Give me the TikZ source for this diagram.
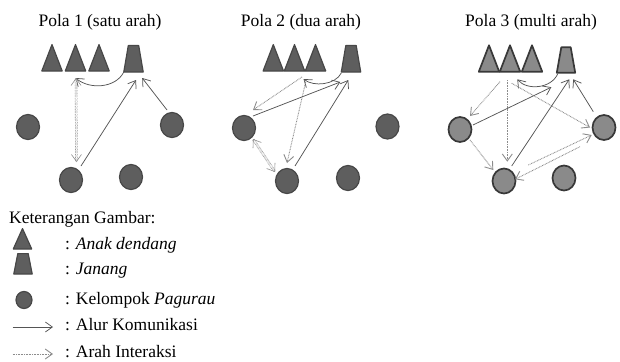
\documentclass[tikz,border=0pt]{standalone}
\usepackage{fontspec}
\setmainfont{Liberation Serif}
\usetikzlibrary{shapes.geometric,arrows.meta,calc}

\definecolor{shapefill}{HTML}{5E5E5E}
\definecolor{shapeline}{HTML}{474747}
\definecolor{lightfill}{HTML}{8A8A8A}
\definecolor{darkline}{HTML}{383838}
\definecolor{solidline}{HTML}{555555}
\definecolor{dotline}{HTML}{8C8C8C}

\tikzset{
  txt/.style={font=\fontsize{17.5}{20}\selectfont, inner sep=0pt},
  body/.style={fill=shapefill, draw=shapeline, line width=1.2pt, line join=round},
  bodylight/.style={fill=lightfill, draw=darkline, line width=1.7pt, line join=round},
  % triangle drawn inside an invisible box: width, height, look
  tri/.style n args={3}{rectangle, minimum width=#1, minimum height=#2, inner sep=0pt, anchor=south,
    append after command={\pgfextra{\path[#3] (\tikzlastnode.south west) -- (\tikzlastnode.north)
      -- (\tikzlastnode.south east) -- cycle;}}},
  % trapezium, narrower on top: width, height, top inset, look
  trap/.style n args={4}{rectangle, minimum width=#1, minimum height=#2, inner sep=0pt, anchor=south,
    append after command={\pgfextra{\path[#4] (\tikzlastnode.south west) -- ($(\tikzlastnode.north west)+(#3,0)$)
      -- ($(\tikzlastnode.north east)+(-#3,0)$) -- (\tikzlastnode.south east) -- cycle;}}},
  person/.style={ellipse, minimum width=23pt, minimum height=25pt, inner sep=0pt},
  sol/.style={draw=solidline, line width=0.75pt, -{Straight Barb[length=7pt, width=10pt]}},
  dot/.style={draw=dotline, line width=0.9pt, dash pattern=on 0.8pt off 0.8pt,
    -{Straight Barb[length=7pt, width=10pt]}},
  dotboth/.style={draw=dotline, line width=0.6pt, double=white, double distance=1.3pt,
    dash pattern=on 0.8pt off 0.8pt,
    {Straight Barb[length=7pt, width=10pt]}-{Straight Barb[length=7pt, width=10pt]}},
}

\begin{document}
\begin{tikzpicture}[x=1pt, y=-1pt]
\useasboundingbox (0,0) rectangle (620,361);

% ---------- titles ----------
\node[txt, anchor=base] (h1) at (100,27) {Pola 1 (satu arah)};
\node[txt, anchor=base] (h2) at (301,27) {Pola 2 (dua arah)};
\node[txt, anchor=base] (h3) at (531,27) {Pola 3 (multi arah)};

% ---------- pattern 1 ----------
\node[tri={20pt}{26pt}{body}] (a11) at (52,71) {};
\node[tri={20pt}{26pt}{body}] (a12) at (75.5,71) {};
\node[tri={20pt}{26pt}{body}] (a13) at (99,71) {};
\node[trap={19pt}{26pt}{4.5pt}{body}] (j1) at (133.5,72) {};
\node[person, body] (p11) at (28,127) {};
\node[person, body] (p12) at (172,125) {};
\node[person, body] (p13) at (71,180) {};
\node[person, body] (p14) at (131,177) {};

\draw[sol] (j1.south west) .. controls ($(j1.south west)+(-8,16)$) and ($(a12.south)+(14.5,19)$) .. ($(a12.south)+(0,7)$);
\draw[dotboth] ($(a12.south)+(0.5,7)$) -- ($(p13.center)+(5.5,-18)$);
\draw[sol] ($(p13.center)+(10,-14)$) -- ($(j1.south)+(2.5,8)$);
\draw[sol] ($(p12.center)+(-5,-15)$) -- ($(j1.south east)+(-1,6)$);

% ---------- pattern 2 ----------
\node[tri={20pt}{26pt}{body}] (a21) at (273.3,71) {};
\node[tri={20pt}{26pt}{body}] (a22) at (294.5,71) {};
\node[tri={20pt}{26pt}{body}] (a23) at (315.5,71) {};
\node[trap={19pt}{26pt}{4.5pt}{body}] (j2) at (351,72) {};
\node[person, body] (p21) at (244,128) {};
\node[person, body] (p22) at (387.5,126.5) {};
\node[person, body] (p23) at (287,181) {};
\node[person, body] (p24) at (348,178) {};

\draw[sol] ($(j2.south west)+(0,1)$) .. controls ($(j2.south west)+(-6,13)$) and ($(a23.south)+(-2,16)$) .. ($(a23.south)+(-12,8)$);
\draw[dot] ($(a22.south)+(7.5,6)$) -- ($(p21.center)+(9,-18)$);
\draw[dot] ($(a22.south)+(11.5,9.5)$) -- ($(p23.center)+(0,-18)$);
\draw[sol] ($(p21.center)+(9,-12)$) -- ($(j2.south west)+(-1,10)$);
\draw[sol] ($(p23.center)+(8,-15)$) -- ($(j2.south)+(-2.7,8)$);
\draw[dotboth] ($(p21.center)+(9,11)$) -- ($(p23.center)+(-12,-9)$);

% ---------- pattern 3 ----------
\node[tri={20pt}{26pt}{bodylight}] (a31) at (489,71.7) {};
\node[tri={20pt}{26pt}{bodylight}] (a32) at (510,71.7) {};
\node[tri={20pt}{26pt}{bodylight}] (a33) at (532,71.7) {};
\node[trap={18pt}{25pt}{4.5pt}{bodylight}] (j3) at (566,72.7) {};
\node[person, bodylight] (p31) at (460,129.5) {};
\node[person, bodylight] (p32) at (604,127.5) {};
\node[person, bodylight] (p33) at (504,181) {};
\node[person, bodylight] (p34) at (564,178) {};

\draw[sol] ($(j3.south west)+(1,1)$) .. controls ($(j3.south west)+(-5.5,16)$) and ($(a32.south)+(17,19)$) .. ($(a32.south)+(7.3,7.6)$);
\draw[dot] ($(a31.south)+(11,10)$) -- ($(p31.center)+(10,-13.5)$);
\draw[dot] ($(a32.south)+(-2.7,8.3)$) -- ($(p33.center)+(3.3,-19.3)$);
\draw[dot] ($(a32.south)+(1.7,11.6)$) -- ($(p32.center)+(-14,0)$);
\draw[sol] ($(p31.center)+(13,-4.5)$) -- ($(j3.south west)+(-5.5,14.5)$);
\draw[sol] ($(p33.center)+(7.7,-15)$) -- ($(j3.south)+(3.3,6.6)$);
\draw[sol] ($(p32.center)+(-10.7,-15.8)$) -- ($(j3.south east)+(-2,6.6)$);
\draw[dot] ($(p31.center)+(10,10.5)$) -- ($(p33.center)+(-10.7,-11)$);
\draw[dot] ($(p33.center)+(24.3,-16)$) -- ($(p32.center)+(-12.3,7.5)$);
\draw[dot] ($(p32.center)+(-24,19.2)$) -- ($(p33.center)+(11,-1.7)$);

% ---------- legend ----------
\node[txt, anchor=base west] (kt) at (9,223) {Keterangan Gambar:};
\node[tri={18pt}{20pt}{body}] (lt) at (22.5,249) {};
\node[trap={18pt}{20pt}{4pt}{body}] (lj) at (23,274) {};
\node[person, body, minimum width=16pt, minimum height=17pt] (lp) at (24,300) {};
\coordinate (ls1) at (12.7,327);
\coordinate (ls2) at (53,327);
\coordinate (ld1) at (12.7,354);
\coordinate (ld2) at (53,354);
\draw[sol] (ls1) -- (ls2);
\draw[dot] (ld1) -- (ld2);
\node[txt, anchor=base west] (l1) at (65,249) {: \textit{Anak dendang}};
\node[txt, anchor=base west] (l2) at (65,274) {: \textit{Janang}};
\node[txt, anchor=base west] (l3) at (65,304) {: Kelompok \textit{Pagurau}};
\node[txt, anchor=base west] (l4) at (65,330) {: Alur Komunikasi};
\node[txt, anchor=base west] (l5) at (65,357) {: Arah Interaksi};
\end{tikzpicture}
\end{document}
